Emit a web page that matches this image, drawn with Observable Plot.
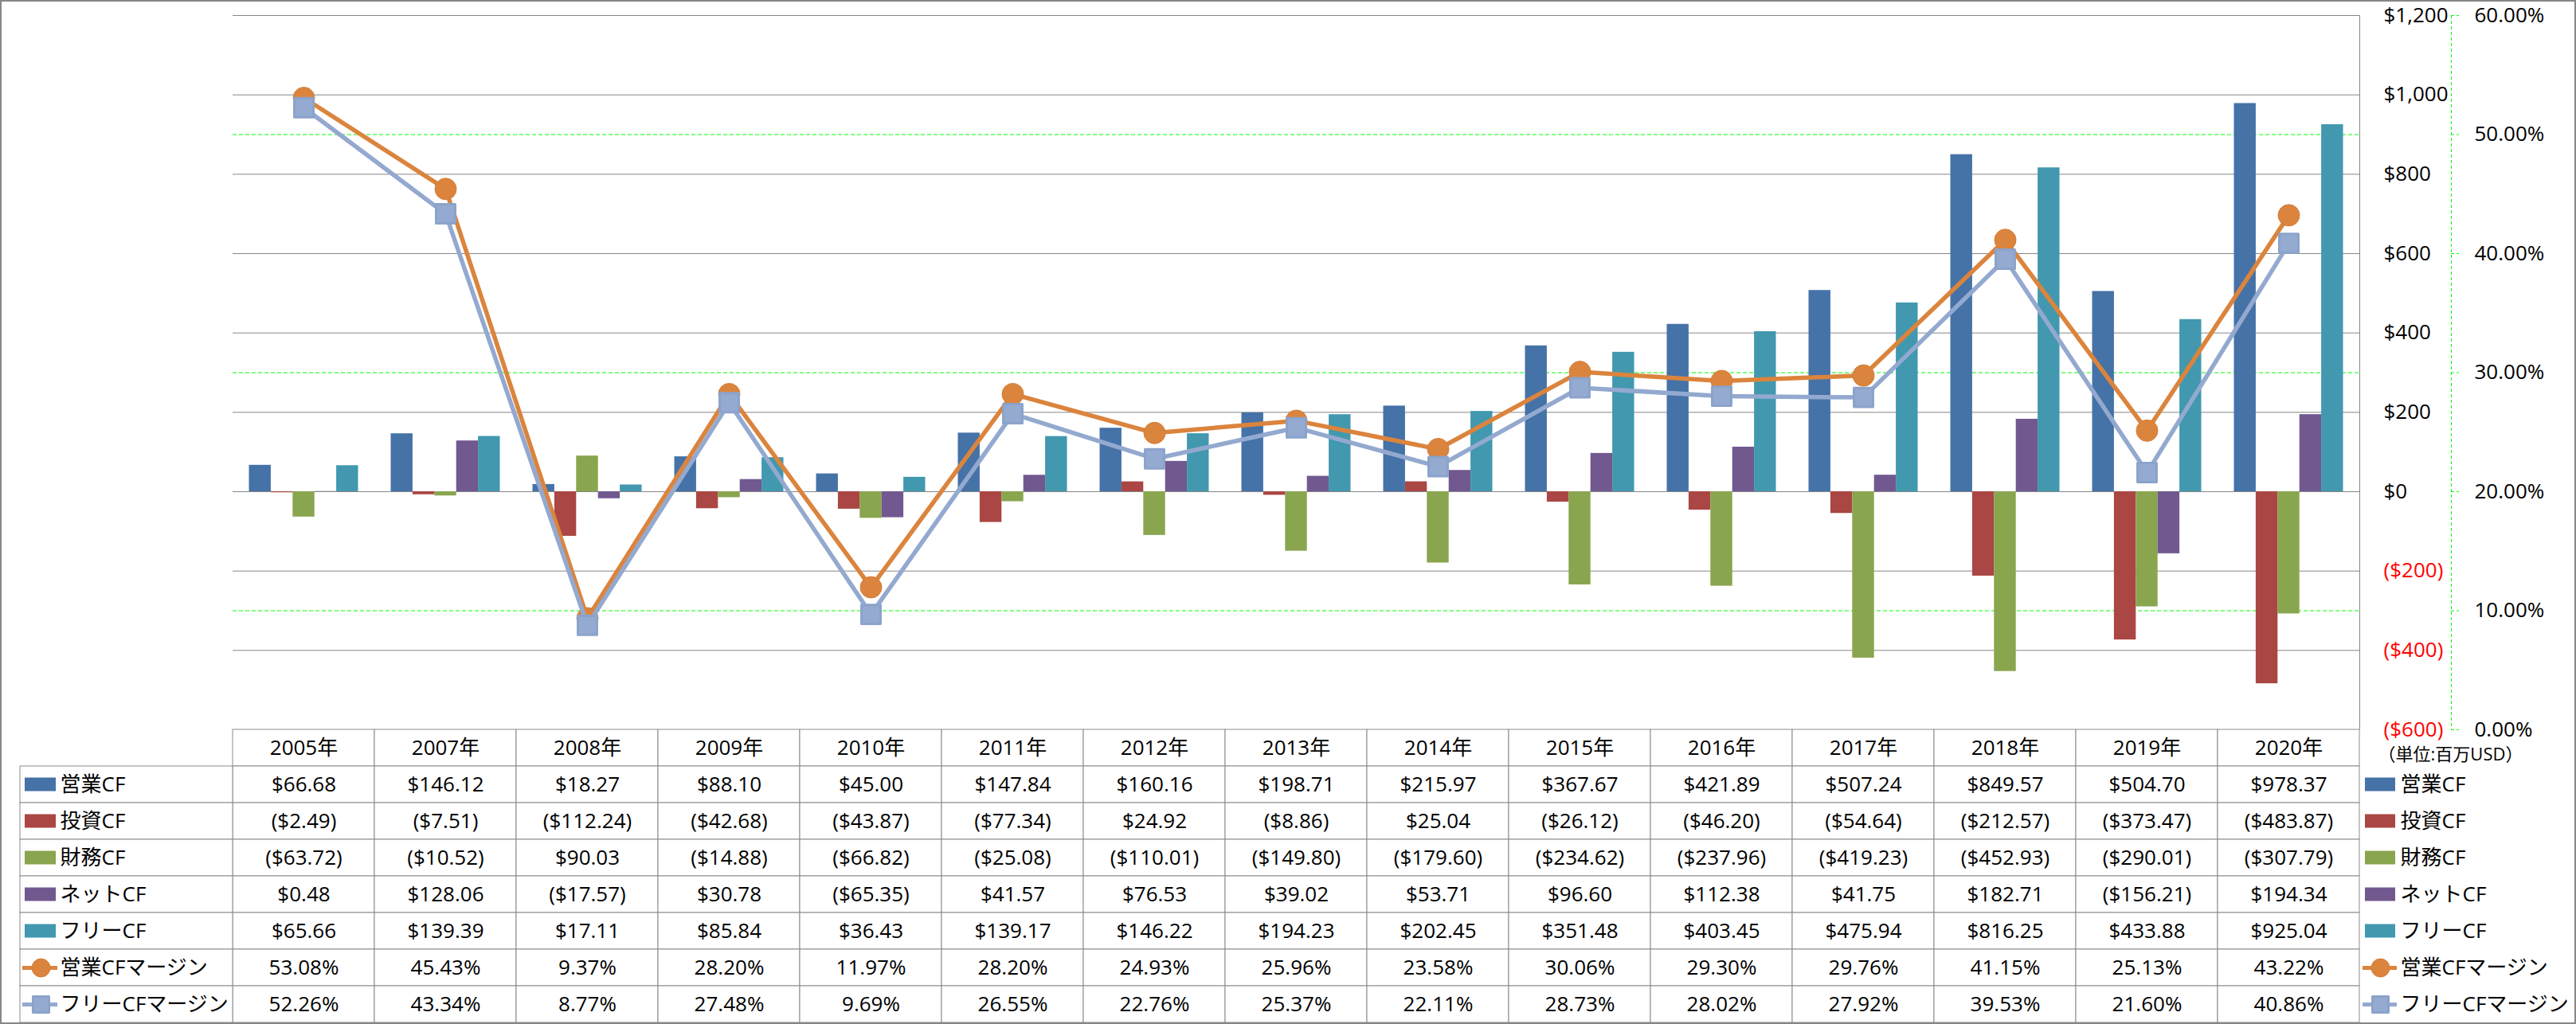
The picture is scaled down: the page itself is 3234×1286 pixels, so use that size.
<!DOCTYPE html>
<html><head><meta charset="utf-8">
<script src="https://cdn.jsdelivr.net/npm/d3@7"></script>
<script src="https://cdn.jsdelivr.net/npm/@observablehq/plot@0.6"></script>
<style>
body{margin:0;background:#fff}
#wrap{position:relative;width:3234px;height:1286px;background:#fff;overflow:hidden}
#wrap svg{position:absolute;left:0;top:0}
#border{position:absolute;left:0;top:0;width:3234px;height:1286px;box-sizing:border-box;border:2px solid #868686;pointer-events:none}
</style></head><body><div id="wrap"></div><script>
// ---- data ----
const years = ["2005年","2007年","2008年","2009年","2010年","2011年","2012年","2013年","2014年","2015年","2016年","2017年","2018年","2019年","2020年"];
const opCF   = [66.68, 146.12, 18.27, 88.10, 45.00, 147.84, 160.16, 198.71, 215.97, 367.67, 421.89, 507.24, 849.57, 504.70, 978.37];
const invCF  = [-2.49, -7.51, -112.24, -42.68, -43.87, -77.34, 24.92, -8.86, 25.04, -26.12, -46.20, -54.64, -212.57, -373.47, -483.87];
const finCF  = [-63.72, -10.52, 90.03, -14.88, -66.82, -25.08, -110.01, -149.80, -179.60, -234.62, -237.96, -419.23, -452.93, -290.01, -307.79];
const netCF  = [0.48, 128.06, -17.57, 30.78, -65.35, 41.57, 76.53, 39.02, 53.71, 96.60, 112.38, 41.75, 182.71, -156.21, 194.34];
const freeCF = [65.66, 139.39, 17.11, 85.84, 36.43, 139.17, 146.22, 194.23, 202.45, 351.48, 403.45, 475.94, 816.25, 433.88, 925.04];
const opMargin   = [53.08, 45.43, 9.37, 28.20, 11.97, 28.20, 24.93, 25.96, 23.58, 30.06, 29.30, 29.76, 41.15, 25.13, 43.22];
const freeMargin = [52.26, 43.34, 8.77, 27.48, 9.69, 26.55, 22.76, 25.37, 22.11, 28.73, 28.02, 27.92, 39.53, 21.60, 40.86];
const barSeries  = ["営業CF","投資CF","財務CF","ネットCF","フリーCF"];
const lineSeries = ["営業CFマージン","フリーCFマージン"];
const usdTicks = [-600,-400,-200,0,200,400,600,800,1000,1200];
const pctTicks = [0,10,20,30,40,50,60];
const unitLabel = "（単位:百万USD）";

// ---- styles ----
const barColors  = ["#4572A7","#AA4643","#89A54E","#71588F","#4198AF"];
const lineColors = ["#DB843D","#93A9CF"];
const markerStroke = ["#D47E38","#8BA3CB"];
const gridGray = "#878787", lime = "#00FF00";
const FONT = "'Open Sans','Noto Sans CJK JP',sans-serif";

// ---- layout ----
const W = 3234, H = 1286, L = 292, R = 2962, T = 19, B = 916, TB = 1284;
const BAND = (R - L) / years.length;        // 178
const GROUP = 137, STEP = GROUP / 5, GAP = (BAND - GROUP) / 2;

const barValues = [opCF, invCF, finCF, netCF, freeCF];
const lineValues = [opMargin, freeMargin];
const rows = years.map((year, i) => ({year, i}));
// secondary axis (0%–60%) mapped onto the primary domain (-600..1200)
const pToY = p => -600 + p * 1800 / 60;
const yToP = v => (v + 600) * 60 / 1800;
const fmtAxis = v => v < 0 ? `($${d3.format(",")(-v)})` : `$${d3.format(",")(v)}`;
const fmtUsd = v => v < 0 ? `($${(-v).toFixed(2)})` : `$${v.toFixed(2)}`;
const fmtPct = v => `${v.toFixed(2)}%`;
const lastYear = years[years.length - 1];

const marks = [];
marks.push(Plot.ruleY(pctTicks, {y: pToY, stroke: lime, strokeWidth: 1, strokeDasharray: "5,3"}));
marks.push(Plot.ruleY(usdTicks, {stroke: gridGray, strokeWidth: 1}));
marks.push(Plot.ruleX([lastYear], {dx: BAND / 2, stroke: gridGray, strokeWidth: 1}));
barSeries.forEach((s, k) => {
  marks.push(Plot.barY(rows, {
    x: "year", y1: 0, y2: d => barValues[k][d.i], fill: barColors[k],
    insetLeft: GAP + k * STEP, insetRight: BAND - GAP - (k + 1) * STEP
  }));
});
lineSeries.forEach((s, k) => {
  marks.push(Plot.line(rows, {x: "year", y: d => pToY(lineValues[k][d.i]), stroke: lineColors[k],
    strokeWidth: 5.5, strokeLinejoin: "round", strokeLinecap: "round"}));
  marks.push(Plot.dot(rows, {x: "year", y: d => pToY(lineValues[k][d.i]),
    symbol: k === 0 ? "circle" : "square", r: 13.5,
    fill: k === 0 ? lineColors[0] : "#94AAD1", stroke: markerStroke[k],
    strokeWidth: k === 0 ? 1 : 3, strokeLinejoin: "round"}));
});
// primary axis (labels only, on the right of the plot)
marks.push(Plot.axisY(usdTicks.filter(v => v >= 0), {anchor: "right", tickSize: 0, tickPadding: 30,
  tickFormat: fmtAxis, fill: "black", fontSize: 26, textAnchor: "start"}));
marks.push(Plot.axisY(usdTicks.filter(v => v < 0), {anchor: "right", tickSize: 0, tickPadding: 30,
  tickFormat: fmtAxis, fill: "#FF0000", fontSize: 26, textAnchor: "start"}));
// secondary axis
const AX2 = 115;
marks.push(Plot.ruleX([lastYear], {dx: BAND / 2 + AX2, stroke: lime, strokeWidth: 1, strokeDasharray: "4,3"}));
marks.push(Plot.tickY(pctTicks, {x: () => lastYear, y: pToY, stroke: lime, strokeWidth: 1, strokeDasharray: "4,3",
  insetLeft: BAND + AX2, insetRight: -(AX2 + 10)}));
marks.push(Plot.axisY(pctTicks.map(pToY), {anchor: "right", tickSize: 0, tickPadding: 144,
  tickFormat: v => fmtPct(yToP(v)), fill: "black", fontSize: 26, textAnchor: "start"}));
marks.push(Plot.text([unitLabel], {frameAnchor: "bottom-right", dx: 114, dy: 38, text: d => d,
  fontSize: 22, fill: "black", textAnchor: "middle"}));

const main = Plot.plot({
  width: W, height: H,
  marginTop: T, marginBottom: H - B, marginLeft: L, marginRight: W - R,
  x: {domain: years, padding: 0, round: false, axis: null},
  y: {domain: [-600, 1200], axis: null},
  style: {background: "transparent", fontFamily: FONT, fontSize: "26px", overflow: "visible"},
  marks
});

// ---- data table ----
const HDR = "__hdr";
const rowLabels = [...barSeries, ...lineSeries];
const allValues = [...barValues, ...lineValues];
const cells = [];
rowLabels.forEach((r, k) => years.forEach((y, i) => cells.push({year: y, row: r,
  text: k < 5 ? fmtUsd(allValues[k][i]) : fmtPct(allValues[k][i])})));
const LBL = "";
const tStroke = "#8C8C8C";
const tmarks = [];
tmarks.push(Plot.cell(years, {x: d => d, y: () => HDR, fill: "white", stroke: tStroke}));
tmarks.push(Plot.cell(cells, {x: "year", y: "row", fill: "white", stroke: tStroke}));
tmarks.push(Plot.cell(rowLabels, {x: () => LBL, y: d => d, fill: "white", stroke: tStroke, insetLeft: 25 - (L - BAND)}));
tmarks.push(Plot.text(years, {x: d => d, y: () => HDR, text: d => d, fill: "black"}));
tmarks.push(Plot.text(cells, {x: "year", y: "row", text: "text", fill: "black"}));
tmarks.push(Plot.text(rowLabels, {x: () => LBL, y: d => d, text: d => d, fill: "black", textAnchor: "start", dx: 75 - (L - BAND / 2)}));
tmarks.push(Plot.text(rowLabels, {x: () => lastYear, y: d => d, text: d => d, fill: "black", textAnchor: "start", dx: 3013 - (R - BAND / 2)}));
barSeries.forEach((s, k) => {
  tmarks.push(Plot.cell([s], {x: () => LBL, y: d => d, fill: barColors[k],
    insetLeft: 31 - (L - BAND), insetRight: L - 70, insetTop: 14.5, insetBottom: 14.5}));
  tmarks.push(Plot.cell([s], {x: () => lastYear, y: d => d, fill: barColors[k],
    insetLeft: 2969 - (R - BAND), insetRight: R - 3007, insetTop: 14.5, insetBottom: 14.5}));
});
lineSeries.forEach((s, k) => {
  const mk = {symbol: k === 0 ? "circle" : "square", r: k === 0 ? 11.5 : 11.3,
    fill: k === 0 ? lineColors[0] : "#94AAD1", stroke: markerStroke[k], strokeWidth: k === 0 ? 1 : 3, strokeLinejoin: "round"};
  tmarks.push(Plot.tickY([s], {x: () => LBL, y: d => d, stroke: lineColors[k], strokeWidth: 5,
    insetLeft: 28 - (L - BAND), insetRight: L - 72}));
  tmarks.push(Plot.dot([s], {x: () => LBL, y: d => d, dx: 51 - (L - BAND / 2), ...mk}));
  tmarks.push(Plot.tickY([s], {x: () => lastYear, y: d => d, stroke: lineColors[k], strokeWidth: 5,
    insetLeft: 2966 - (R - BAND), insetRight: R - 3009}));
  tmarks.push(Plot.dot([s], {x: () => lastYear, y: d => d, dx: 2988 - (R - BAND / 2), ...mk}));
});

const table = Plot.plot({
  width: W, height: H,
  marginTop: B, marginBottom: H - TB, marginLeft: L - BAND, marginRight: W - R,
  x: {domain: [LBL, ...years], padding: 0, round: false, axis: null},
  y: {domain: [HDR, ...rowLabels], padding: 0, round: false, axis: null},
  style: {background: "transparent", fontFamily: FONT, fontSize: "26px", overflow: "visible"},
  marks: tmarks
});

const wrap = document.getElementById("wrap");
wrap.appendChild(main);
wrap.appendChild(table);
const border = document.createElement("div");
border.id = "border";
wrap.appendChild(border);
</script></body></html>
